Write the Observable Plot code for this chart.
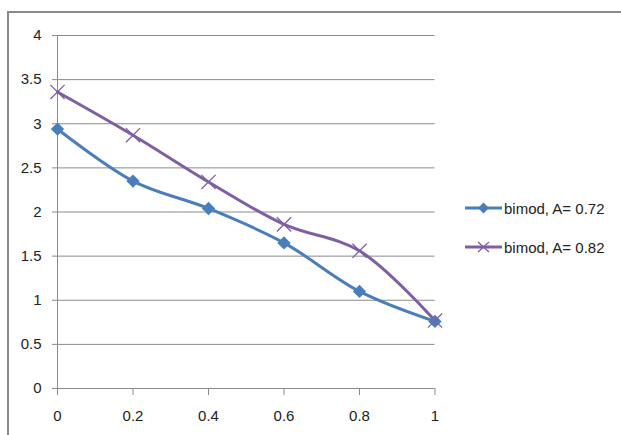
<!DOCTYPE html>
<html>
<head>
<meta charset="utf-8">
<script src="https://cdn.jsdelivr.net/npm/d3@7"></script>
<script src="https://cdn.jsdelivr.net/npm/@observablehq/plot@0.6"></script>
<style>
  html, body { margin: 0; padding: 0; background: #fff; }
  #wrap { position: relative; width: 621px; height: 435px; overflow: hidden; font-family: "Liberation Sans", Arial, sans-serif; }
  #frame { position: absolute; left: 7px; top: 11px; width: 700px; height: 500px; border-top: 2px solid #8a8a8a; border-left: 2px solid #8a8a8a; }
  #chart { position: absolute; left: 0; top: 0; }
  .legend-item { position: absolute; left: 464px; height: 20px; display: flex; align-items: center; font-size: 15px; color: #222; white-space: nowrap; }
  .legend-item svg { display: block; margin-right: 1px; }
</style>
</head>
<body>
<div id="wrap">
  <div id="frame"></div>
  <div id="chart"></div>
</div>
<script>
// x positions and the two series
const xValues = [0, 0.2, 0.4, 0.6, 0.8, 1];
const bimod072 = [2.94, 2.35, 2.04, 1.65, 1.10, 0.76];
const bimod082 = [3.36, 2.87, 2.34, 1.86, 1.56, 0.77];
const seriesNames = ["bimod, A= 0.72", "bimod, A= 0.82"];
const seriesColors = ["#4a7ebb", "#7f5fa3"];
const seriesSymbols = ["diamond2", "times"];
const xTicks = [0, 0.2, 0.4, 0.6, 0.8, 1];
const yTicks = [0, 0.5, 1, 1.5, 2, 2.5, 3, 3.5, 4];

const rowsA = xValues.map((x, i) => ({x, y: bimod072[i]}));
const rowsB = xValues.map((x, i) => ({x, y: bimod082[i]}));

const gridColor = "#8a8a8a";

const chart = Plot.plot({
  width: 621,
  height: 435,
  marginLeft: 57,
  marginRight: 186.5,
  marginTop: 35,
  marginBottom: 47,
  style: {fontFamily: "Liberation Sans, Arial, sans-serif", fontSize: "15px", color: "#222", background: "transparent", overflow: "visible"},
  x: {domain: [0, 1]},
  y: {domain: [0, 4]},
  marks: [
    Plot.ruleY(yTicks, {stroke: gridColor, strokeWidth: 1}),
    Plot.ruleX([0], {stroke: gridColor, strokeWidth: 1}),
    Plot.axisY({ticks: yTicks, tickSize: 5, tickPadding: 11, stroke: gridColor, label: null, fontSize: 15, tickFormat: d => String(d)}),
    Plot.axisX({ticks: xTicks, tickSize: 7, tickPadding: 15, stroke: gridColor, label: null, fontSize: 15, tickFormat: d => String(d)}),
    Plot.line(rowsA, {x: "x", y: "y", stroke: seriesColors[0], strokeWidth: 3, curve: "catmull-rom"}),
    Plot.line(rowsB, {x: "x", y: "y", stroke: seriesColors[1], strokeWidth: 3, curve: "catmull-rom"}),
    Plot.dot(rowsA, {x: "x", y: "y", symbol: seriesSymbols[0], r: 6, fill: seriesColors[0], stroke: "none"}),
    Plot.dot(rowsB, {x: "x", y: "y", symbol: seriesSymbols[1], r: 6.5, stroke: seriesColors[1], strokeWidth: 1.3})
  ]
});
document.getElementById("chart").appendChild(chart);

// legend on the right
const wrap = document.getElementById("wrap");
const legendTops = [198, 237];
seriesNames.forEach((name, i) => {
  const item = document.createElement("div");
  item.className = "legend-item";
  item.style.top = legendTops[i] + "px";
  const s = d3.create("svg").attr("width", 39).attr("height", 20);
  s.append("line").attr("x1", 1).attr("x2", 38).attr("y1", 10).attr("y2", 10)
    .attr("stroke", seriesColors[i]).attr("stroke-width", 3);
  if (seriesSymbols[i] === "diamond2") {
    s.append("path").attr("d", "M19.5,4.5L25,10L19.5,15.5L14,10Z").attr("fill", seriesColors[i]);
  } else {
    s.append("path").attr("d", "M14,5L25,15M25,5L14,15").attr("stroke", seriesColors[i]).attr("stroke-width", 1.3);
  }
  item.appendChild(s.node());
  const label = document.createElement("span");
  label.textContent = name;
  item.appendChild(label);
  wrap.appendChild(item);
});
</script>
</body>
</html>
